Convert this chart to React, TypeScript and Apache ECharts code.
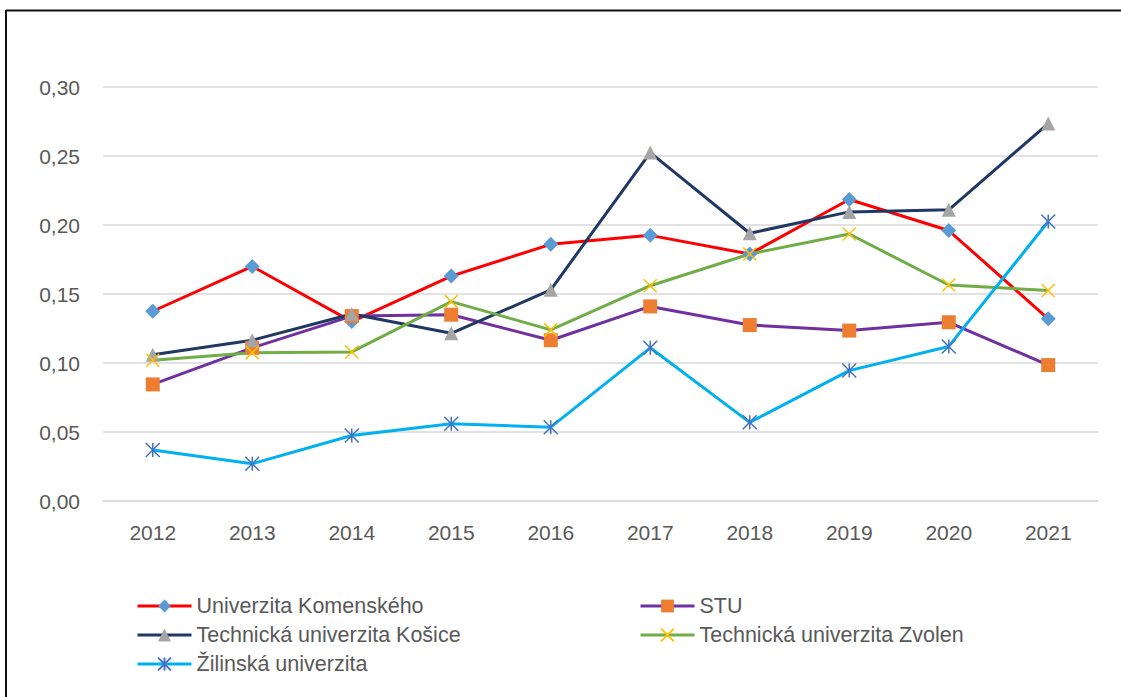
import React, { useEffect, useRef } from "react";
import * as echarts from "echarts";

const years = ["2012", "2013", "2014", "2015", "2016", "2017", "2018", "2019", "2020", "2021"];
const komenskeho = [0.1375, 0.170, 0.130, 0.163, 0.186, 0.1925, 0.179, 0.2185, 0.196, 0.132];
const stu = [0.0845, 0.111, 0.134, 0.135, 0.1165, 0.141, 0.1275, 0.1235, 0.1295, 0.0985];
const kosice = [0.106, 0.1165, 0.1355, 0.1215, 0.153, 0.2525, 0.194, 0.2095, 0.211, 0.2735];
const zvolen = [0.102, 0.1075, 0.108, 0.1445, 0.124, 0.156, 0.179, 0.1935, 0.1565, 0.1525];
const zilina = [0.037, 0.027, 0.0475, 0.056, 0.0535, 0.111, 0.057, 0.0945, 0.112, 0.2025];

const names = [
  "Univerzita Komenského",
  "STU",
  "Technická univerzita Košice",
  "Technická univerzita Zvolen",
  "Žilinská univerzita",
];

const FONT = "'Liberation Sans', Arial, sans-serif";
const X_SYMBOL = "path://M0,0L10,10M10,0L0,10";
const STAR_SYMBOL = "path://M0,0L10,10M10,0L0,10M5,0L5,10";

export default function App() {
  const ref = useRef<HTMLDivElement>(null);

  useEffect(() => {
    if (!ref.current) return;
    const chart = echarts.init(ref.current, undefined, { renderer: "svg" });

    const legendPos = [
      { left: 136, top: 595 },
      { left: 639, top: 595 },
      { left: 136, top: 624 },
      { left: 639, top: 624 },
      { left: 136, top: 653 },
    ];

    const legends = names.map((n, i) => ({
      data: [n],
      left: legendPos[i].left,
      top: legendPos[i].top,
      padding: 0,
      itemWidth: 54,
      itemHeight: 16,
      lineStyle: { width: 3 },
      textStyle: { fontFamily: FONT, fontSize: 21.5, color: "#595959" },
    }));

    const lineSeries = (name: string, data: number[], lineColor: string, symbol: string, symColor: string, size: number, stroke = false) => ({
      name,
      type: "line",
      data,
      symbol,
      symbolSize: size,
      showSymbol: true,
      lineStyle: { color: lineColor, width: 3 },
      itemStyle: stroke
        ? { color: "none", borderColor: symColor, borderWidth: 1.5 }
        : { color: symColor, borderWidth: 0 },
      emphasis: { disabled: true },
    });

    chart.setOption({
      animation: false,
      backgroundColor: "#ffffff",
      grid: { left: 103, right: 23, top: 87, bottom: 196, containLabel: false },
      legend: legends,
      xAxis: {
        type: "category",
        data: years,
        boundaryGap: true,
        axisLine: { lineStyle: { color: "#d9d9d9", width: 1.5 } },
        axisTick: { show: false },
        axisLabel: { fontFamily: FONT, fontSize: 21, color: "#595959", margin: 21 },
      },
      yAxis: {
        type: "value",
        min: 0,
        max: 0.3,
        interval: 0.05,
        axisLine: { show: false },
        axisTick: { show: false },
        splitLine: { lineStyle: { color: "#d9d9d9", width: 1.5 } },
        axisLabel: {
          fontFamily: FONT,
          fontSize: 21,
          color: "#595959",
          margin: 23,
          formatter: (v: number) => v.toFixed(2).replace(".", ","),
        },
      },
      graphic: [
        { type: "line", shape: { x1: 6, y1: 10.5, x2: 1121, y2: 10.5 }, style: { stroke: "#111", lineWidth: 2 } },
        { type: "line", shape: { x1: 6, y1: 10, x2: 6, y2: 697 }, style: { stroke: "#111", lineWidth: 2 } },
      ],
      series: [
        lineSeries(names[0], komenskeho, "#FF0000", "diamond", "#5B9BD5", 15),
        lineSeries(names[1], stu, "#7030A0", "rect", "#ED7D31", 14),
        lineSeries(names[2], kosice, "#1F3864", "triangle", "#A5A5A5", 14),
        lineSeries(names[3], zvolen, "#70AD47", X_SYMBOL, "#FFC000", 13, true),
        lineSeries(names[4], zilina, "#00B0F0", STAR_SYMBOL, "#4472C4", 14, true),
      ],
    });

    return () => chart.dispose();
  }, []);

  return (
    <div
      ref={ref}
      style={{ position: "fixed", left: 0, top: 0, width: 1121, height: 697, background: "#fff" }}
    />
  );
}
